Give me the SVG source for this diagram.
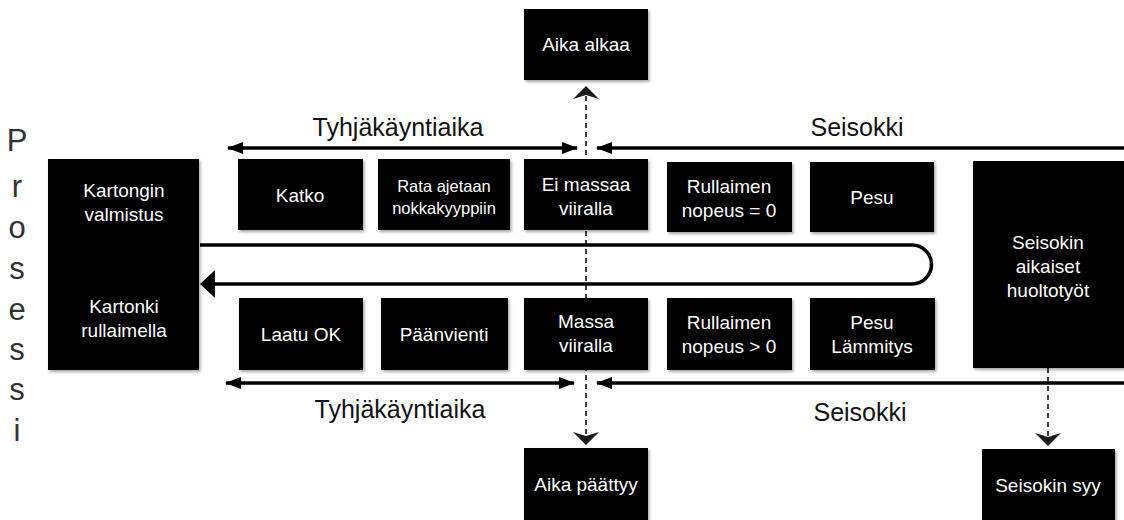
<svg xmlns="http://www.w3.org/2000/svg" width="1124" height="520" viewBox="0 0 1124 520">
<style>
.box{fill:#000;filter:url(#sh)}
.bt{fill:#fff;font-family:"Liberation Sans",Arial,sans-serif;font-size:19px;text-anchor:middle}
.lbl{fill:#111;font-family:"Liberation Sans",Arial,sans-serif;font-size:25px;text-anchor:middle}
.pr{fill:#333;font-family:"Liberation Sans",Arial,sans-serif;font-size:31px;text-anchor:middle}
.ln{stroke:#000;stroke-width:3.5;fill:none}
.dash{stroke:#000;stroke-width:1.5;stroke-dasharray:5,4;fill:none}
</style>
<defs>
<filter id="sh" x="-10%" y="-10%" width="130%" height="130%">
<feDropShadow dx="1.5" dy="2" stdDeviation="1.5" flood-color="#000" flood-opacity="0.35"/>
</filter>
<marker id="ahb" viewBox="0 0 16 12" refX="15" refY="6" markerWidth="16" markerHeight="12" markerUnits="userSpaceOnUse" orient="auto-start-reverse">
<path d="M0,0 L16,6 L0,12 Z" fill="#000"/>
</marker>
<marker id="dh" viewBox="0 0 13 26" refX="12" refY="13" markerWidth="13" markerHeight="26" markerUnits="userSpaceOnUse" orient="auto-start-reverse">
<path d="M0,0 L13,13 L0,26 L4,13 Z" fill="#1a1a1a"/>
</marker>
</defs>

<g id="prosessi">
<text class="pr" x="17" y="151">P</text>
<text class="pr" x="17" y="197">r</text>
<text class="pr" x="17" y="238">o</text>
<text class="pr" x="17" y="279">s</text>
<text class="pr" x="17" y="320">e</text>
<text class="pr" x="17" y="360">s</text>
<text class="pr" x="17" y="400">s</text>
<text class="pr" x="17" y="441">i</text>
</g>

<g id="connectors">
<path class="ln" d="M200,245 H912 A19.5,19.5 0 0 1 912,284 H214"/>
<path d="M200,284 L215,270 L215,298 Z" fill="#000"/>
<line class="ln" x1="228" y1="148" x2="577" y2="148" marker-start="url(#ahb)" marker-end="url(#ahb)"/>
<line class="ln" x1="1124" y1="148" x2="597" y2="148" marker-end="url(#ahb)"/>
<line class="ln" x1="226" y1="383" x2="574" y2="383" marker-start="url(#ahb)" marker-end="url(#ahb)"/>
<line class="ln" x1="1124" y1="383" x2="597" y2="383" marker-end="url(#ahb)"/>
<line class="dash" x1="586" y1="87" x2="586" y2="444" marker-start="url(#dh)" marker-end="url(#dh)"/>
<line class="dash" x1="1048" y1="368" x2="1048" y2="445" marker-end="url(#dh)"/>
</g>

<g id="label-tyhja-top"><text class="lbl" x="398" y="136">Tyhjäkäyntiaika</text></g>
<g id="label-seisokki-top"><text class="lbl" x="857" y="136">Seisokki</text></g>
<g id="label-tyhja-bottom"><text class="lbl" x="400" y="418">Tyhjäkäyntiaika</text></g>
<g id="label-seisokki-bottom"><text class="lbl" x="860" y="421">Seisokki</text></g>

<g id="aika-alkaa"><rect class="box" x="524" y="9" width="124" height="71"/><text class="bt" x="586" y="51">Aika alkaa</text></g>
<g id="aika-paattyy"><rect class="box" x="524" y="448" width="124" height="72"/><text class="bt" x="586" y="491">Aika päättyy</text></g>
<g id="seisokin-syy"><rect class="box" x="982" y="449" width="133" height="71"/><text class="bt" x="1048" y="492">Seisokin syy</text></g>

<g id="kartonki"><rect class="box" x="48" y="159" width="151" height="211"/>
<text class="bt" x="124" y="197">Kartongin</text><text class="bt" x="124" y="221">valmistus</text>
<text class="bt" x="124" y="313">Kartonki</text><text class="bt" x="124" y="337">rullaimella</text></g>

<g id="katko"><rect class="box" x="238" y="159" width="125" height="71"/><text class="bt" x="300" y="202">Katko</text></g>
<g id="rata"><rect class="box" x="378" y="159" width="132" height="71"/><text class="bt" x="444" y="192" style="font-size:16.5px">Rata ajetaan</text><text class="bt" x="444" y="214" style="font-size:16.5px">nokkakyyppiin</text></g>
<g id="ei-massaa"><rect class="box" x="524" y="159" width="124" height="71"/><text class="bt" x="586" y="191">Ei massaa</text><text class="bt" x="586" y="215">viiralla</text></g>
<g id="rullaimen0"><rect class="box" x="667" y="162" width="125" height="70"/><text class="bt" x="729" y="193">Rullaimen</text><text class="bt" x="729" y="217">nopeus = 0</text></g>
<g id="pesu"><rect class="box" x="810" y="162" width="124" height="70"/><text class="bt" x="872" y="204">Pesu</text></g>
<g id="seisokin-huolto"><rect class="box" x="973" y="161" width="151" height="207"/>
<text class="bt" x="1048" y="249">Seisokin</text><text class="bt" x="1048" y="273">aikaiset</text><text class="bt" x="1048" y="297">huoltotyöt</text></g>

<g id="laatu"><rect class="box" x="239" y="298" width="124" height="72"/><text class="bt" x="301" y="341">Laatu OK</text></g>
<g id="paanvienti"><rect class="box" x="381" y="298" width="127" height="72"/><text class="bt" x="444" y="341">Päänvienti</text></g>
<g id="massa"><rect class="box" x="524" y="298" width="124" height="72"/><text class="bt" x="586" y="328">Massa</text><text class="bt" x="586" y="352">viiralla</text></g>
<g id="rullaimen1"><rect class="box" x="667" y="298" width="125" height="72"/><text class="bt" x="729" y="329">Rullaimen</text><text class="bt" x="729" y="353">nopeus &gt; 0</text></g>
<g id="pesu-lammitys"><rect class="box" x="810" y="298" width="125" height="72"/><text class="bt" x="872" y="329">Pesu</text><text class="bt" x="872" y="353">Lämmitys</text></g>
</svg>
